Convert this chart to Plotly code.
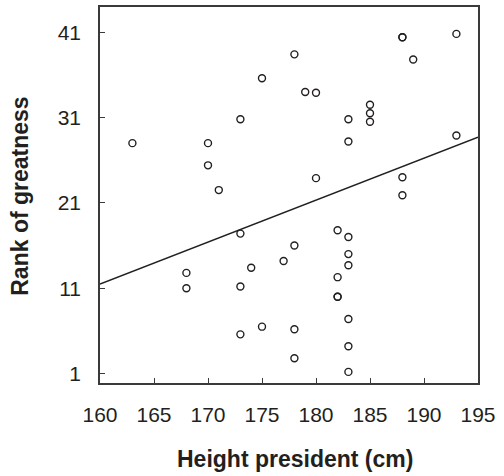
import plotly.graph_objects as go

# Data
height_cm = [163, 170, 170, 171, 173, 175, 178, 188, 188, 193, 189, 179, 180,
             185, 185, 185, 183, 183, 193, 180, 188, 188, 173, 168, 168, 173,
             174, 177, 178, 173, 175, 178, 178, 182, 183, 183, 183, 182, 182,
             182, 183, 183, 183]
rank = [28.0, 28.0, 25.4, 22.5, 30.8, 35.6, 38.4, 40.4, 40.4, 40.8, 37.8, 34.0, 33.9,
        32.5, 31.5, 30.5, 30.8, 28.2, 28.9, 23.9, 24.0, 21.9, 17.4, 12.8, 11.0, 11.2,
        13.4, 14.2, 16.0, 5.6, 6.5, 6.2, 2.8, 17.8, 17.0, 15.0, 13.7, 12.3, 10.0,
        10.0, 7.4, 4.2, 1.2]

fit_x = [160, 195]
fit_y = [11.5, 28.7]

x_ticks = [160, 165, 170, 175, 180, 185, 190, 195]
y_ticks = [1, 11, 21, 31, 41]

FONT = "Liberation Sans, Arial, sans-serif"
TXT = "#231f20"

fig = go.Figure()
fig.add_trace(go.Scatter(x=fit_x, y=fit_y, mode="lines",
                         line=dict(color="#231f20", width=1.5), showlegend=False,
                         hoverinfo="skip"))
fig.add_trace(go.Scatter(x=height_cm, y=rank, mode="markers",
                         marker=dict(symbol="circle-open", size=7, color="#231f20",
                                     line=dict(width=1.4, color="#231f20")),
                         showlegend=False))

axis_common = dict(showline=True, mirror=True, linecolor="#3a3a3a", linewidth=1.5,
                   ticks="inside", ticklen=5, tickwidth=1, tickcolor="#3a3a3a",
                   showgrid=False, zeroline=False,
                   tickfont=dict(family=FONT, size=21, color=TXT))

fig.update_xaxes(range=[160, 195], tickvals=x_ticks, ticklabelstandoff=12, **axis_common)
fig.update_yaxes(range=[-0.1, 43.95], tickvals=y_ticks, ticklabelstandoff=13, **axis_common)

fig.add_annotation(text="<b>Rank of greatness</b>", xref="paper", yref="paper",
                   x=-0.21, y=0.497, xanchor="center", yanchor="middle",
                   textangle=-90, showarrow=False,
                   font=dict(family=FONT, size=23, color=TXT))
fig.add_annotation(text="<b>Height president (cm)</b>", xref="paper", yref="paper",
                   x=0.516, y=-0.203, xanchor="center", yanchor="middle",
                   showarrow=False, font=dict(family=FONT, size=23, color=TXT))

fig.update_layout(width=504, height=476,
                  margin=dict(l=100, r=26, t=5, b=93),
                  paper_bgcolor="white", plot_bgcolor="white")

fig.write_html("out.html")
